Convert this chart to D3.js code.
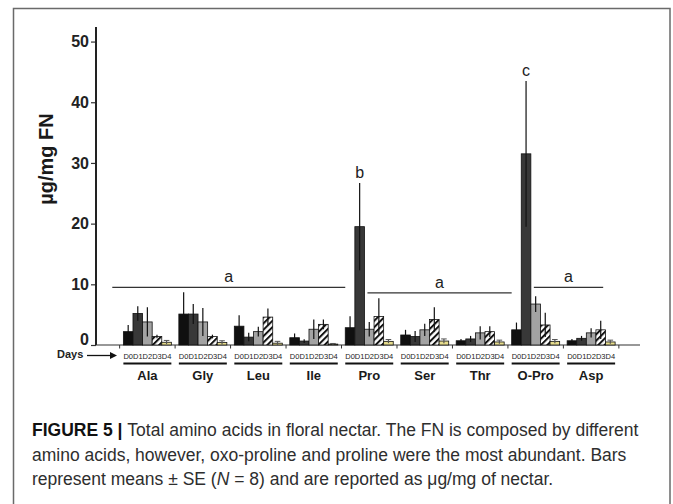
<!DOCTYPE html>
<html>
<head>
<meta charset="utf-8">
<script src="https://cdn.jsdelivr.net/npm/d3@7"></script>
<style>
  body { margin: 0; background: #fff; }
  svg { display: block; font-family: "Liberation Sans", Arial, sans-serif; }
</style>
</head>
<body>
<div id="vis"></div>
<script>
// amino acids (x groups) and sampling days (series)
var groups = ['Ala', 'Gly', 'Leu', 'Ile', 'Pro', 'Ser', 'Thr', 'O-Pro', 'Asp'];
var days = ['D0', 'D1', 'D2', 'D3', 'D4'];

// means (ug/mg FN) per day, one value per amino acid
var d0Mean = [2.2, 5.1, 3.1, 1.2, 2.85, 1.65, 0.7, 2.5, 0.7];
var d1Mean = [5.2, 5.1, 1.3, 0.65, 19.5, 1.4, 1.0, 31.5, 1.1];
var d2Mean = [3.8, 3.8, 2.2, 2.6, 2.6, 2.5, 2.0, 6.75, 2.0];
var d3Mean = [1.4, 1.4, 4.6, 3.4, 4.7, 4.2, 2.2, 3.3, 2.5];
var d4Mean = [0.45, 0.4, 0.3, 0.15, 0.6, 0.65, 0.5, 0.6, 0.5];

// standard errors
var d0Se = [1.1, 3.6, 1.8, 0.7, 1.9, 0.85, 0.3, 1.2, 0.3];
var d1Se = [1.2, 1.65, 0.7, 0.3, 7.2, 0.9, 0.5, 12.0, 0.4];
var d2Se = [2.4, 2.3, 0.8, 1.6, 1.2, 1.0, 1.1, 1.3, 0.75];
var d3Se = [0.3, 0.3, 1.4, 0.8, 3.0, 2.0, 0.9, 2.0, 1.5];
var d4Se = [0.3, 0.3, 0.3, 0.1, 0.3, 0.35, 0.3, 0.3, 0.3];

var yTicks = [0, 10, 20, 30, 40, 50];

// significance groups: span in group-index units, level in ug/mg
var sigLines = [
    { letter: 'a', from: -0.2, to: 4.0, level: 9.5 },
    { letter: 'a', from: 4.4, to: 7.0, level: 8.6 },
    { letter: 'a', from: 7.4, to: 8.65, level: 9.5 }
];
var sigPeaks = [
    { letter: 'b', group: 'Pro', day: 'D1' },
    { letter: 'c', group: 'O-Pro', day: 'D1' }
];

var captionLines = [
    [{ t: 'FIGURE 5 | ', b: true }, { t: 'Total amino acids in floral nectar. The FN is composed by different' }],
    [{ t: 'amino acids, however, oxo-proline and proline were the most abundant. Bars' }],
    [{ t: 'represent means \u00B1 SE (' }, { t: 'N', i: true }, { t: ' = 8) and are reported as \u03BCg/mg of nectar.' }]
];

var means = [d0Mean, d1Mean, d2Mean, d3Mean, d4Mean];
var ses = [d0Se, d1Se, d2Se, d3Se, d4Se];

var width = 673;
var height = 504;

var svg = d3.select('#vis')
            .append('svg')
            .attr('width', width)
            .attr('height', height);

// hatch for D3
var defs = svg.append('defs');
var pat = defs.append('pattern')
              .attr('id', 'hatch')
              .attr('patternUnits', 'userSpaceOnUse')
              .attr('width', 4.5)
              .attr('height', 4.5)
              .attr('patternTransform', 'rotate(45)');
pat.append('rect').attr('width', 4.5).attr('height', 4.5).attr('fill', '#fff');
pat.append('rect').attr('x', 0).attr('width', 2).attr('height', 4.5).attr('fill', '#111');

var fills = ['#101010', '#383838', '#a3a3a3', 'url(#hatch)', '#e6dc8c'];

// frame
svg.append('path')
   .attr('d', 'M13.5,510 V8.5 H670 V510')
   .attr('fill', 'none')
   .attr('stroke', '#6a6a6a')
   .attr('stroke-width', 1.5);

var xGroup = d3.scaleBand()
               .domain(groups)
               .range([119.5, 619])
               .paddingInner(0.135)
               .paddingOuter(0.07);
var xDay = d3.scaleBand()
             .domain(days)
             .range([0, xGroup.bandwidth()]);
var yScale = d3.scaleLinear()
               .domain([0, 52.4])
               .range([345, 27]);

var x0 = xGroup(groups[0]);
var step = xGroup.step();
var gx = function(idx) { return x0 + idx * step; };

// y axis
var yAxis = d3.axisLeft(yScale)
              .tickValues(yTicks)
              .tickSize(5)
              .tickPadding(2);
var yG = svg.append('g')
            .attr('transform', 'translate(96,0)')
            .call(yAxis);
yG.select('.domain').remove();
yG.append('line')
  .attr('x1', 0).attr('x2', 0)
  .attr('y1', yScale(0)).attr('y2', 27)
  .attr('stroke', '#222').attr('stroke-width', 2);
yG.selectAll('.tick line').attr('stroke', '#333').attr('stroke-width', 1.2);
yG.selectAll('.tick text')
  .attr('fill', '#222')
  .style('font-size', '16px')
  .style('font-weight', 'bold')
  .style('font-family', '"Liberation Sans", Arial, sans-serif');
// zero label sits a little above the baseline, as in the figure
yG.selectAll('.tick').filter(function(d) { return d == 0; })
  .select('text').attr('y', -6);

svg.append('text')
   .attr('transform', 'translate(53,159) rotate(-90)')
   .attr('text-anchor', 'middle')
   .style('font-size', '20px')
   .style('font-weight', 'bold')
   .attr('fill', '#1a1a1a')
   .text('\u00B5g/mg FN');

// baseline
svg.append('line')
   .attr('x1', 96).attr('x2', 640)
   .attr('y1', yScale(0)).attr('y2', yScale(0))
   .attr('stroke', '#333').attr('stroke-width', 1.2);

// separator ticks between groups
var sepX = d3.range(groups.length + 1).map(function(i) { return gx(i) - step * 0.135 / 2; });
svg.selectAll('.sep')
   .data(sepX)
   .enter().append('line')
   .attr('class', 'sep')
   .attr('x1', function(d) { return d; })
   .attr('x2', function(d) { return d; })
   .attr('y1', yScale(0))
   .attr('y2', yScale(0) + 3.5)
   .attr('stroke', '#333');

// bar records
var bars = [];
groups.forEach(function(g, gi) {
    days.forEach(function(d, di) {
        bars.push({ group: g, day: d, di: di, mean: means[di][gi], se: ses[di][gi] });
    });
});

var barG = svg.append('g');
barG.selectAll('rect')
    .data(bars)
    .enter().append('rect')
    .attr('x', function(d) { return xGroup(d.group) + xDay(d.day); })
    .attr('width', xDay.bandwidth())
    .attr('y', function(d) { return yScale(d.mean); })
    .attr('height', function(d) { return yScale(0) - yScale(d.mean); })
    .attr('fill', function(d) { return fills[d.di]; })
    .attr('stroke', '#111')
    .attr('stroke-width', 0.8);

// error bars
barG.selectAll('.err')
    .data(bars)
    .enter().append('line')
    .attr('class', 'err')
    .attr('x1', function(d) { return xGroup(d.group) + xDay(d.day) + xDay.bandwidth() / 2; })
    .attr('x2', function(d) { return xGroup(d.group) + xDay(d.day) + xDay.bandwidth() / 2; })
    .attr('y1', function(d) { return yScale(Math.max(0, d.mean - d.se)); })
    .attr('y2', function(d) { return yScale(d.mean + d.se); })
    .attr('stroke', function(d) { return d.di == 4 ? '#555' : '#111'; })
    .attr('stroke-width', 1.2);
barG.selectAll('.cap')
    .data(bars.filter(function(d) { return d.di == 4; }))
    .enter().append('line')
    .attr('class', 'cap')
    .attr('x1', function(d) { return xGroup(d.group) + xDay(d.day) + 2; })
    .attr('x2', function(d) { return xGroup(d.group) + xDay(d.day) + xDay.bandwidth() - 2; })
    .attr('y1', function(d) { return yScale(d.mean + d.se); })
    .attr('y2', function(d) { return yScale(d.mean + d.se); })
    .attr('stroke', '#555')
    .attr('stroke-width', 1);

// day labels
svg.selectAll('.dayLabel')
   .data(bars)
   .enter().append('text')
   .attr('class', 'dayLabel')
   .attr('x', function(d) { return xGroup(d.group) + xDay(d.day) + xDay.bandwidth() / 2; })
   .attr('y', 358.5)
   .attr('text-anchor', 'middle')
   .style('font-size', '7.5px')
   .attr('fill', '#222')
   .text(function(d) { return d.day; });

// group underlines and labels
svg.selectAll('.under')
   .data(groups)
   .enter().append('line')
   .attr('class', 'under')
   .attr('x1', function(d) { return xGroup(d); })
   .attr('x2', function(d) { return xGroup(d) + xGroup.bandwidth(); })
   .attr('y1', 363.5).attr('y2', 363.5)
   .attr('stroke', '#111').attr('stroke-width', 2);
svg.selectAll('.groupLabel')
   .data(groups)
   .enter().append('text')
   .attr('class', 'groupLabel')
   .attr('x', function(d) { return xGroup(d) + xGroup.bandwidth() / 2; })
   .attr('y', 380)
   .attr('text-anchor', 'middle')
   .style('font-size', '13px')
   .style('font-weight', 'bold')
   .attr('fill', '#1a1a1a')
   .text(function(d) { return d; });

// Days arrow
svg.append('text')
   .attr('x', 57).attr('y', 358)
   .style('font-size', '11px')
   .style('font-weight', 'bold')
   .attr('fill', '#222')
   .text('Days');
svg.append('line')
   .attr('x1', 87).attr('x2', 114)
   .attr('y1', 355.5).attr('y2', 355.5)
   .attr('stroke', '#111').attr('stroke-width', 1.3);
svg.append('path')
   .attr('d', 'M117,355.5 L110,352 L110,359 Z')
   .attr('fill', '#111');

// significance lines
svg.selectAll('.sig')
   .data(sigLines)
   .enter().append('line')
   .attr('class', 'sig')
   .attr('x1', function(d) { return gx(d.from); })
   .attr('x2', function(d) { return gx(d.to); })
   .attr('y1', function(d) { return yScale(d.level); })
   .attr('y2', function(d) { return yScale(d.level); })
   .attr('stroke', '#333').attr('stroke-width', 1.2);
svg.selectAll('.sigText')
   .data(sigLines)
   .enter().append('text')
   .attr('class', 'sigText')
   .attr('x', function(d) { return (gx(d.from) + gx(d.to)) / 2; })
   .attr('y', function(d) { return yScale(d.level) - 5; })
   .attr('text-anchor', 'middle')
   .style('font-size', '16px')
   .attr('fill', '#222')
   .text(function(d) { return d.letter; });
svg.selectAll('.peakText')
   .data(sigPeaks)
   .enter().append('text')
   .attr('class', 'peakText')
   .attr('x', function(d) { return xGroup(d.group) + xDay(d.day) + xDay.bandwidth() / 2; })
   .attr('y', function(d) {
       var gi = groups.indexOf(d.group), di = days.indexOf(d.day);
       return yScale(means[di][gi] + ses[di][gi]) - 5;
   })
   .attr('text-anchor', 'middle')
   .style('font-size', '16px')
   .attr('fill', '#222')
   .text(function(d) { return d.letter; });

// caption
var cap = svg.append('text')
             .attr('x', 32)
             .attr('y', 436)
             .style('font-size', '17.5px')
             .attr('fill', '#2e2e2e');
captionLines.forEach(function(line, li) {
    line.forEach(function(part, pi) {
        var ts = cap.append('tspan').text(part.t);
        if (pi == 0) ts.attr('x', 32).attr('dy', li == 0 ? 0 : 24.5);
        if (part.b) ts.style('font-weight', 'bold').attr('fill', '#111');
        if (part.i) ts.style('font-style', 'italic');
    });
});
</script>
</body>
</html>
